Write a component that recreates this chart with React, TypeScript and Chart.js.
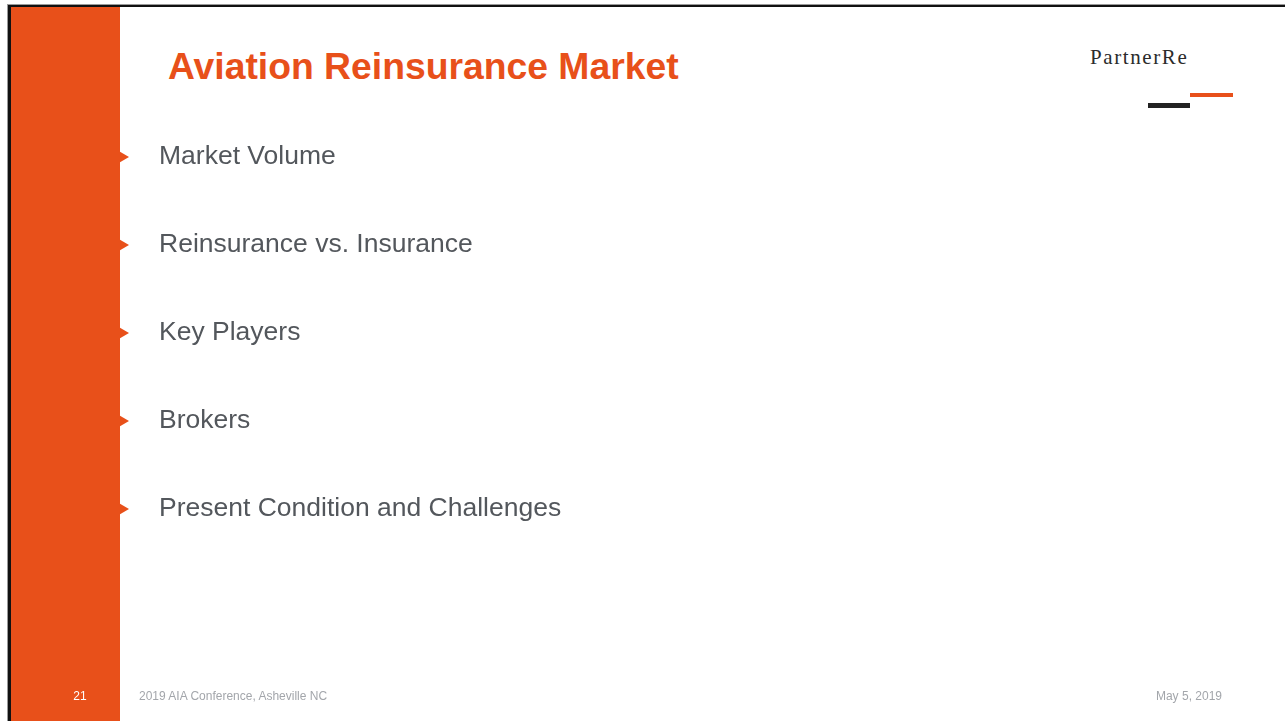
import React, { useEffect, useRef } from "react";
import { Chart, registerables } from "chart.js";

Chart.register(...registerables);

const slideTitle = "Aviation Reinsurance Market";
const bulletItems = [
  "Market Volume",
  "Reinsurance vs. Insurance",
  "Key Players",
  "Brokers",
  "Present Condition and Challenges",
];
const bulletMarkerX = bulletItems.map(() => 0);
const slideNumber = "21";
const footerLeft = "2019 AIA Conference, Asheville NC";
const footerRight = "May 5, 2019";
const logoText = "PartnerRe";

const ORANGE = "#E8501A";
const TEXT_GRAY = "#53575c";
const FOOT_GRAY = "#a3a6ab";
const SANS = 'Arial, "Liberation Sans", Helvetica, sans-serif';

export default function App() {
  const canvasRef = useRef<HTMLCanvasElement | null>(null);

  useEffect(() => {
    if (!canvasRef.current) return;
    const chart = new Chart(canvasRef.current, {
      type: "scatter",
      data: {
        labels: bulletItems,
        datasets: [
          {
            data: bulletItems.map((b, i) => ({ x: bulletMarkerX[i], y: b })) as any,
            pointStyle: "triangle",
            rotation: 90,
            radius: 6,
            hoverRadius: 6,
            backgroundColor: ORANGE,
            borderColor: ORANGE,
            borderWidth: 0,
            clip: false as any,
          } as any,
        ],
      },
      options: {
        animation: false,
        responsive: false,
        maintainAspectRatio: false,
        events: [],
        layout: { padding: { left: 51, top: 157, bottom: 212, right: 0 } },
        plugins: {
          legend: { display: false },
          tooltip: { enabled: false },
          title: { display: false },
        },
        scales: {
          x: { type: "linear", display: false, min: 0, max: 1 },
          y: {
            type: "category",
            labels: bulletItems,
            offset: false,
            grid: { display: false, drawTicks: false },
            border: { display: false },
            ticks: {
              mirror: true,
              padding: 36,
              crossAlign: "near",
              autoSkip: false,
              color: TEXT_GRAY,
              font: { family: SANS, size: 26.5 },
            },
          } as any,
        },
      },
    });
    return () => chart.destroy();
  }, []);

  return (
    <div
      style={{
        position: "fixed",
        left: 0,
        top: 0,
        width: 1285,
        height: 721,
        background: "#ffffff",
        overflow: "hidden",
        fontFamily: SANS,
      }}
    >
      {/* frame */}
      <div style={{ position: "absolute", left: 7, top: 4, width: 1278, height: 1, background: "#9a9a9a" }} />
      <div style={{ position: "absolute", left: 7, top: 4, width: 1, height: 717, background: "#9a9a9a" }} />
      <div style={{ position: "absolute", left: 8, top: 5, width: 1277, height: 2, background: "#111" }} />
      <div style={{ position: "absolute", left: 8, top: 5, width: 3, height: 716, background: "#111" }} />
      {/* orange side bar */}
      <div style={{ position: "absolute", left: 11, top: 7, width: 109, height: 714, background: ORANGE }} />
      {/* title */}
      <div
        style={{
          position: "absolute",
          left: 168,
          top: 48,
          fontSize: 37.3,
          lineHeight: "37px",
          fontWeight: 700,
          color: ORANGE,
          whiteSpace: "nowrap",
        }}
      >
        {slideTitle}
      </div>
      {/* logo */}
      <div
        style={{
          position: "absolute",
          left: 1090,
          top: 47,
          fontFamily: '"Times New Roman", "Liberation Serif", serif',
          fontSize: 21,
          lineHeight: "21px",
          letterSpacing: 1.6,
          color: "#2b2b2b",
          whiteSpace: "nowrap",
        }}
      >
        {logoText}
      </div>
      <div style={{ position: "absolute", left: 1190, top: 93, width: 43, height: 4, background: ORANGE }} />
      <div style={{ position: "absolute", left: 1148, top: 103, width: 42, height: 5, background: "#222" }} />
      {/* chart canvas with bullets */}
      <canvas
        ref={canvasRef}
        width={1285}
        height={721}
        style={{ position: "absolute", left: 0, top: 0, width: 1285, height: 721 }}
      />
      {/* footer */}
      <div
        style={{
          position: "absolute",
          left: 60,
          width: 40,
          top: 689,
          fontSize: 12,
          lineHeight: "14px",
          textAlign: "center",
          color: "#ffffff",
        }}
      >
        {slideNumber}
      </div>
      <div
        style={{
          position: "absolute",
          left: 139,
          top: 689,
          fontSize: 12,
          lineHeight: "14px",
          color: FOOT_GRAY,
          whiteSpace: "nowrap",
        }}
      >
        {footerLeft}
      </div>
      <div
        style={{
          position: "absolute",
          right: 1285 - 1222,
          top: 689,
          fontSize: 12,
          lineHeight: "14px",
          color: FOOT_GRAY,
          whiteSpace: "nowrap",
        }}
      >
        {footerRight}
      </div>
    </div>
  );
}
